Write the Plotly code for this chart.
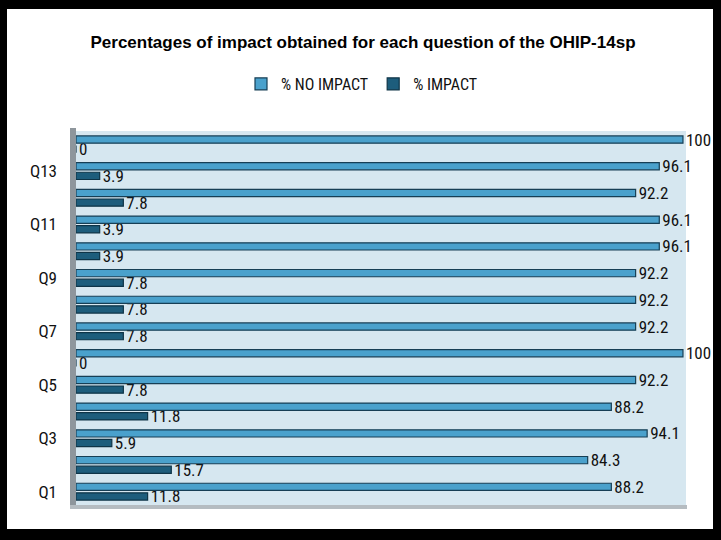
import plotly.graph_objects as go

questions = ["Q1", "Q2", "Q3", "Q4", "Q5", "Q6", "Q7", "Q8", "Q9", "Q10", "Q11", "Q12", "Q13", "Q14"]
no_impact = [88.2, 84.3, 94.1, 88.2, 92.2, 100, 92.2, 92.2, 92.2, 96.1, 96.1, 92.2, 96.1, 100]
impact = [11.8, 15.7, 5.9, 11.8, 7.8, 0, 7.8, 7.8, 7.8, 3.9, 3.9, 7.8, 3.9, 0]
tick_labels = ["Q1", "Q3", "Q5", "Q7", "Q9", "Q11", "Q13"]

W, H = 721, 540
ml, mr, mt, mb = 76, 35, 131, 35
pw, ph = W - ml - mr, H - mt - mb

def px_x(p):
    return (p - ml) / pw

def px_y(p):
    return 1 - (p - mt) / ph

narrow = "Liberation Sans Narrow, Roboto Condensed, Arial Narrow, Liberation Sans, sans-serif"
regular = "Liberation Sans, Arial, sans-serif"

fig = go.Figure()
fig.add_trace(go.Bar(
    y=questions, x=impact, orientation="h", name="% IMPACT",
    marker=dict(color="#1d5d7c", line=dict(color="#0e3447", width=1.2)),
    text=[f"{v:g}" for v in impact], textposition="outside", constraintext="none",
    textfont=dict(size=17, color="#111111", family=narrow),
    cliponaxis=False,
))
fig.add_trace(go.Bar(
    y=questions, x=no_impact, orientation="h", name="% NO IMPACT",
    marker=dict(color="#4aa1cc", line=dict(color="#173f55", width=1.2)),
    text=[f"{v:g}" for v in no_impact], textposition="outside", constraintext="none",
    textfont=dict(size=17, color="#111111", family=narrow),
    cliponaxis=False,
))

def rect(x0, x1, y0, y1, color, layer="above"):
    return dict(type="rect", xref="paper", yref="paper",
                x0=px_x(x0), x1=px_x(x1), y0=px_y(y1), y1=px_y(y0),
                line=dict(width=0), fillcolor=color, layer=layer)

shapes = [
    # outer black frame
    rect(0, 7, 0, H, "#000000"),
    rect(0, W, 0, 9, "#000000"),
    rect(713, W, 0, H, "#000000"),
    rect(0, W, 529, H, "#000000"),
    # left 3D wall
    rect(70, 76, 128, 509, "#8e969c", "below"),
    # floor shadow
    rect(70, 687, 505, 509, "#b5bcc1", "below"),
]

fig.update_layout(
    width=W, height=H,
    margin=dict(l=ml, r=mr, t=mt, b=mb),
    paper_bgcolor="#ffffff",
    plot_bgcolor="#d6e7f0",
    barmode="group",
    bargap=0.28,
    bargroupgap=0.25,
    title=dict(text="<b>Percentages of impact obtained for each question of the OHIP-14sp</b>",
               x=px_x(363), xref="paper", xanchor="center", y=1 - 42 / H, yanchor="middle",
               font=dict(size=17, color="#000000", family=regular)),
    legend=dict(orientation="h", x=px_x(362), xanchor="center", y=px_y(84), yanchor="middle",
                traceorder="reversed", font=dict(size=16, color="#111111", family=narrow),
                itemwidth=30, bgcolor="rgba(0,0,0,0)"),
    xaxis=dict(range=[0, 100.5], showticklabels=False, showgrid=False, zeroline=False,
               showline=False, ticks=""),
    yaxis=dict(type="category", categoryorder="array", categoryarray=questions,
               tickvals=tick_labels, ticktext=tick_labels, showgrid=False,
               tickfont=dict(size=17, color="#111111", family=narrow),
               ticks="", ticklen=0, showline=False, zeroline=False),
    shapes=shapes,
    font=dict(family=narrow),
)
fig.update_yaxes(ticklabelstandoff=18)

fig.write_html("out.html", config={"displayModeBar": False},
               post_script="document.body.style.margin='0';document.body.style.overflow='hidden';")
